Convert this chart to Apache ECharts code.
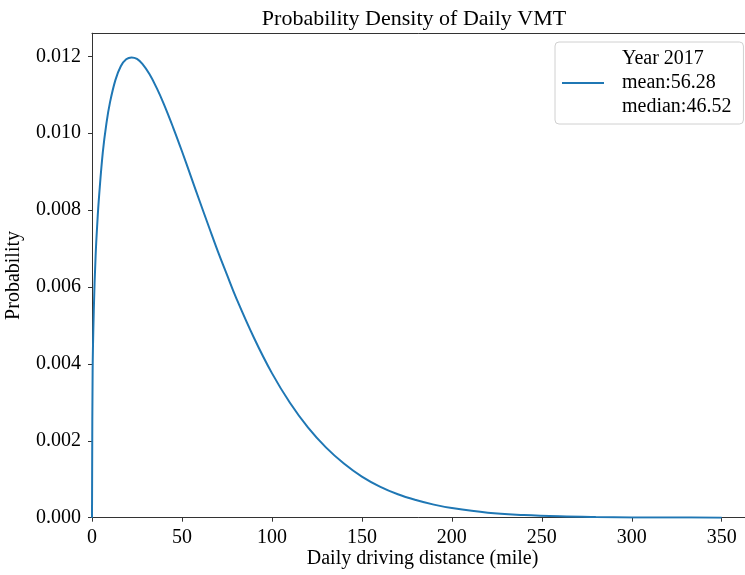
<!DOCTYPE html>
<html>
<head>
<meta charset="utf-8">
<script src="https://cdn.jsdelivr.net/npm/echarts@6/dist/echarts.min.js"></script>
<style>html,body{margin:0;padding:0;background:#fff;}#c{width:745px;height:575px;}</style>
</head>
<body>
<div id="c"></div>
<script>
// Daily driving distance (mile) and density values
const distance = [0, 0.35, 1, 2, 3, 4, 6, 8, 10, 13, 16, 19, 22, 25, 28, 32, 36, 40, 45, 50, 55, 60, 65, 70, 75, 80, 90, 100, 110, 120, 130, 140, 150, 160, 170, 180, 190, 200, 220, 240, 260, 280, 300, 325, 350];
const density  = [0, 0.0038, 0.0054, 0.0068, 0.0077, 0.0084, 0.0095, 0.01025, 0.0108, 0.01138, 0.01174, 0.01192, 0.01197, 0.01193, 0.0118, 0.01153, 0.01117, 0.01075, 0.01016, 0.00953, 0.00887, 0.00821, 0.00756, 0.00692, 0.00632, 0.00573, 0.00468, 0.00376, 0.00299, 0.00235, 0.00183, 0.00141, 0.00107, 0.00081, 0.00061, 0.00046, 0.00034, 0.00025, 0.00013, 0.00007, 0.000035, 0.000017, 0.000008, 0.000003, 0.000001];
const xTicks = [0, 50, 100, 150, 200, 250, 300, 350];
const yTicks = [0, 0.002, 0.004, 0.006, 0.008, 0.010, 0.012];
const seriesName = 'Year 2017\nmean:56.28\nmedian:46.52';

const FONT = '"Liberation Serif", "DejaVu Serif", serif';
const chart = echarts.init(document.getElementById('c'), null, {renderer: 'canvas'});
chart.setOption({
  animation: false,
  backgroundColor: '#ffffff',
  title: {
    text: 'Probability Density of Daily VMT',
    left: 409, top: 3, textAlign: 'center',
    textStyle: {fontFamily: FONT, fontSize: 22, fontWeight: 'normal', color: '#000'}
  },
  legend: {
    data: [seriesName],
    left: 555, top: 42,
    orient: 'vertical',
    icon: 'rect', itemWidth: 42, itemHeight: 2,
    padding: [5, 12, 5, 7],
    borderColor: '#d0d0d0', borderWidth: 1, borderRadius: 4,
    backgroundColor: '#fff',
    textStyle: {fontFamily: FONT, fontSize: 20, color: '#000', lineHeight: 24, padding: [0, 0, 0, 13]}
  },
  grid: {left: 92, top: 33.2, width: 661.2, height: 484.5, outerBoundsMode: 'none', containLabel: false, show: false},
  xAxis: [{
    type: 'value', min: 0, max: 367.5,
    name: 'Daily driving distance (mile)', nameLocation: 'middle', nameGap: 41, nameMoveOverlap: false,
    nameTextStyle: {fontFamily: FONT, fontSize: 20, color: '#000', verticalAlign: 'middle'},
    axisLine: {show: true, lineStyle: {color: '#333', width: 1}},
    axisTick: {show: true, length: 4, lineStyle: {color: '#333'}, customValues: xTicks},
    axisLabel: {fontFamily: FONT, fontSize: 20, color: '#000', margin: 10, customValues: xTicks},
    splitLine: {show: false}
  }, {
    type: 'value', position: 'top', min: 0, max: 367.5,
    axisLine: {show: true, onZero: false, lineStyle: {color: '#333', width: 1}},
    axisTick: {show: false}, axisLabel: {show: false}, splitLine: {show: false}
  }],
  yAxis: {
    type: 'value', min: 0, max: 0.0126,
    name: 'Probability', nameLocation: 'middle', nameGap: 68, nameMoveOverlap: false,
    nameTextStyle: {fontFamily: FONT, fontSize: 20, color: '#000'},
    axisLine: {show: true, lineStyle: {color: '#333', width: 1}},
    axisTick: {show: true, length: 4, lineStyle: {color: '#333'}, customValues: yTicks},
    axisLabel: {fontFamily: FONT, fontSize: 20, color: '#000', margin: 11, customValues: yTicks,
      formatter: v => v.toFixed(3)},
    splitLine: {show: false}
  },
  series: [{
    name: seriesName,
    type: 'line',
    data: distance.map((d, i) => [d, density[i]]),
    smooth: 0.4,
    showSymbol: false,
    lineStyle: {color: '#1f77b4', width: 2},
    itemStyle: {color: '#1f77b4'}
  }]
});
</script>
</body>
</html>
